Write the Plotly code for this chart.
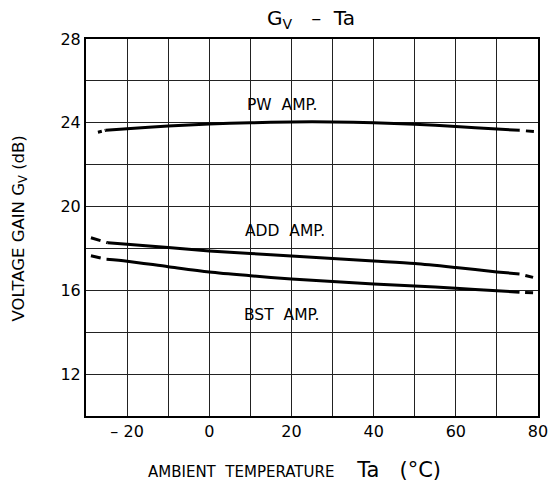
import plotly.graph_objects as go

# ---------------- data ----------------
pw_temp = [-27.1, -25.2, -20, -10, 0, 10, 20, 30, 40, 50, 60, 70, 75.5, 79.0]
pw_gain = [23.55, 23.64, 23.72, 23.85, 23.94, 24.00, 24.04, 24.04, 24.00, 23.93, 23.82, 23.70, 23.64, 23.58]

add_temp = [-28.8, -24.7, -20, -10, 0, 10, 20, 30, 40, 50, 60, 70, 75.5, 78.8]
add_gain = [18.51, 18.27, 18.20, 18.04, 17.88, 17.76, 17.64, 17.52, 17.40, 17.28, 17.09, 16.88, 16.78, 16.62]

bst_temp = [-28.8, -25.0, -20, -10, 0, 10, 20, 30, 40, 50, 60, 70, 75.5, 78.8]
bst_gain = [17.65, 17.48, 17.39, 17.13, 16.88, 16.70, 16.54, 16.42, 16.30, 16.21, 16.10, 15.98, 15.91, 15.88]

curve_names = ["PW  AMP.", "ADD  AMP.", "BST  AMP."]
label_temp = [17.6, 18.4, 17.6]
label_gain = [24.85, 18.83, 14.81]

x_tickvals = [-20, 0, 20, 40, 60, 80]
x_ticktext = ["– 20", "0", "20", "40", "60", "80"]
x_minorvals = [-10, 10, 30, 50, 70]
y_tickvals = [12, 16, 20, 24, 28]
y_ticktext = ["12", "16", "20", "24", "28"]
y_minorvals = [14, 18, 22, 26]

FONT = "DejaVu Sans"
GRID = "#222"

fig = go.Figure()

def add_curve(t, g, left_dash):
    # left dashed extension
    fig.add_trace(go.Scatter(x=t[:2], y=g[:2], mode="lines",
                             line=dict(color="black", width=3, dash=left_dash),
                             showlegend=False, hoverinfo="skip"))
    # solid middle
    fig.add_trace(go.Scatter(x=t[1:-1], y=g[1:-1], mode="lines",
                             line=dict(color="black", width=3, shape="spline", smoothing=0.8),
                             showlegend=False, hoverinfo="skip"))
    # right dashed extension (drawn from the outer end inward)
    fig.add_trace(go.Scatter(x=t[-1:-3:-1], y=g[-1:-3:-1], mode="lines",
                             line=dict(color="black", width=3, dash="8px,6px"),
                             showlegend=False, hoverinfo="skip"))

add_curve(pw_temp, pw_gain, "4px,3px")
add_curve(add_temp, add_gain, "10px,6px")
add_curve(bst_temp, bst_gain, "10px,6px")

for name, xt, yg in zip(curve_names, label_temp, label_gain):
    fig.add_annotation(x=xt, y=yg, text=name, showarrow=False,
                       font=dict(family=FONT, size=15.5, color="black"))

# title
fig.add_annotation(xref="paper", yref="paper", x=0.497, y=1.0, yshift=20,
                   xanchor="center", yanchor="middle", showarrow=False,
                   text="G<sub>V</sub>   –  Ta",
                   font=dict(family=FONT, size=20, color="black"))
# x title
fig.add_annotation(xref="paper", yref="paper", x=0.462, y=0, yshift=-40,
                   xanchor="center", yanchor="top", showarrow=False,
                   text="AMBIENT  TEMPERATURE  <span style='font-size:21px'>  Ta   (°C)</span>",
                   font=dict(family=FONT, size=15, color="black"))
# y title
fig.add_annotation(xref="paper", yref="paper", x=0, xshift=-67, y=0.5, yshift=-1,
                   xanchor="center", yanchor="middle", showarrow=False, textangle=-90,
                   text="VOLTAGE GAIN G<sub>V</sub> (dB)",
                   font=dict(family=FONT, size=16.5, color="black"))

fig.update_xaxes(range=[-30, 80], tickmode="array", tickvals=x_tickvals, ticktext=x_ticktext,
                 showgrid=True, gridcolor=GRID, gridwidth=1,
                 minor=dict(tickmode="array", tickvals=x_minorvals, showgrid=True,
                            gridcolor=GRID, gridwidth=1, ticks=""),
                 showline=True, linecolor="black", linewidth=2, mirror=True,
                 ticks="", zeroline=False, ticklabelstandoff=0, automargin=False,
                 tickfont=dict(family=FONT, size=16, color="black"))
fig.update_yaxes(range=[10, 28], tickmode="array", tickvals=y_tickvals, ticktext=y_ticktext,
                 showgrid=True, gridcolor=GRID, gridwidth=1,
                 minor=dict(tickmode="array", tickvals=y_minorvals, showgrid=True,
                            gridcolor=GRID, gridwidth=1, ticks=""),
                 showline=True, linecolor="black", linewidth=2, mirror=True,
                 ticks="", zeroline=False, ticklabelstandoff=0, automargin=False,
                 tickfont=dict(family=FONT, size=16, color="black"))

fig.update_layout(width=549, height=484,
                  margin=dict(l=86, r=11, t=39, b=68),
                  plot_bgcolor="white", paper_bgcolor="white",
                  showlegend=False)

# remove the page's default 8px body margin so the figure fills the window
fig.write_html("out.html", config={"displayModeBar": False},
               post_script="document.body.style.margin='0px';")
